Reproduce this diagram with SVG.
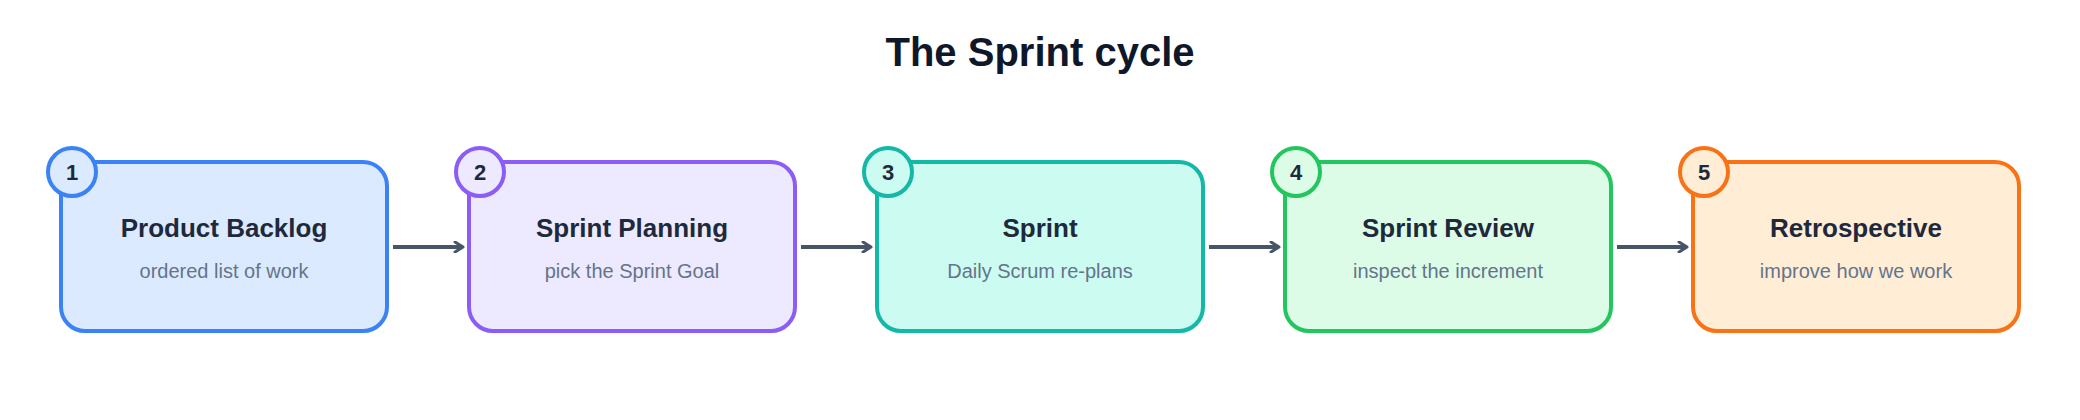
<svg xmlns="http://www.w3.org/2000/svg" width="2080" height="420" viewBox="0 0 2080 420">
<defs>
<marker id="ah" markerWidth="12" markerHeight="12" refX="10" refY="6" orient="auto" markerUnits="userSpaceOnUse" viewBox="0 0 12 12"><path d="M2,1 L10,6 L2,11" fill="none" stroke="#475569" stroke-width="3" stroke-linecap="round" stroke-linejoin="round"/></marker>
</defs>
<style>
text{font-family:"Liberation Sans",Arial,sans-serif;text-anchor:middle}
.t{font-size:40px;font-weight:bold;fill:#0f172a}
.h{font-size:26px;font-weight:bold;fill:#1e293b}
.s{font-size:20px;fill:#64748b}
.n{font-size:22px;font-weight:bold;fill:#1e293b}
.box{stroke-width:4}
.c{stroke:#475569;stroke-width:4;fill:none}
</style>
<rect width="2080" height="420" fill="#fff"/>
<text class="t" x="1040" y="66">The Sprint cycle</text>
<g id="n1"><rect class="box" x="61" y="162" width="326" height="169" rx="24" fill="#dbeafe" stroke="#3b82f6"/><circle cx="72" cy="172" r="24" fill="#dbeafe" stroke="#3b82f6" stroke-width="4"/><text class="n" x="72" y="180">1</text><text class="h" x="224" y="237">Product Backlog</text><text class="s" x="224" y="278">ordered list of work</text></g>
<g id="n2"><rect class="box" x="469" y="162" width="326" height="169" rx="24" fill="#ede9fe" stroke="#8b5cf6"/><circle cx="480" cy="172" r="24" fill="#ede9fe" stroke="#8b5cf6" stroke-width="4"/><text class="n" x="480" y="180">2</text><text class="h" x="632" y="237">Sprint Planning</text><text class="s" x="632" y="278">pick the Sprint Goal</text></g>
<g id="n3"><rect class="box" x="877" y="162" width="326" height="169" rx="24" fill="#ccfbf1" stroke="#14b8a6"/><circle cx="888" cy="172" r="24" fill="#ccfbf1" stroke="#14b8a6" stroke-width="4"/><text class="n" x="888" y="180">3</text><text class="h" x="1040" y="237">Sprint</text><text class="s" x="1040" y="278">Daily Scrum re-plans</text></g>
<g id="n4"><rect class="box" x="1285" y="162" width="326" height="169" rx="24" fill="#dcfce7" stroke="#22c55e"/><circle cx="1296" cy="172" r="24" fill="#dcfce7" stroke="#22c55e" stroke-width="4"/><text class="n" x="1296" y="180">4</text><text class="h" x="1448" y="237">Sprint Review</text><text class="s" x="1448" y="278">inspect the increment</text></g>
<g id="n5"><rect class="box" x="1693" y="162" width="326" height="169" rx="24" fill="#ffedd5" stroke="#f97316"/><circle cx="1704" cy="172" r="24" fill="#ffedd5" stroke="#f97316" stroke-width="4"/><text class="n" x="1704" y="180">5</text><text class="h" x="1856" y="237">Retrospective</text><text class="s" x="1856" y="278">improve how we work</text></g>
<g id="connectors">
<line class="c" x1="393" y1="247" x2="463" y2="247" marker-end="url(#ah)"/>
<line class="c" x1="801" y1="247" x2="871" y2="247" marker-end="url(#ah)"/>
<line class="c" x1="1209" y1="247" x2="1279" y2="247" marker-end="url(#ah)"/>
<line class="c" x1="1617" y1="247" x2="1687" y2="247" marker-end="url(#ah)"/>
</g>
</svg>
